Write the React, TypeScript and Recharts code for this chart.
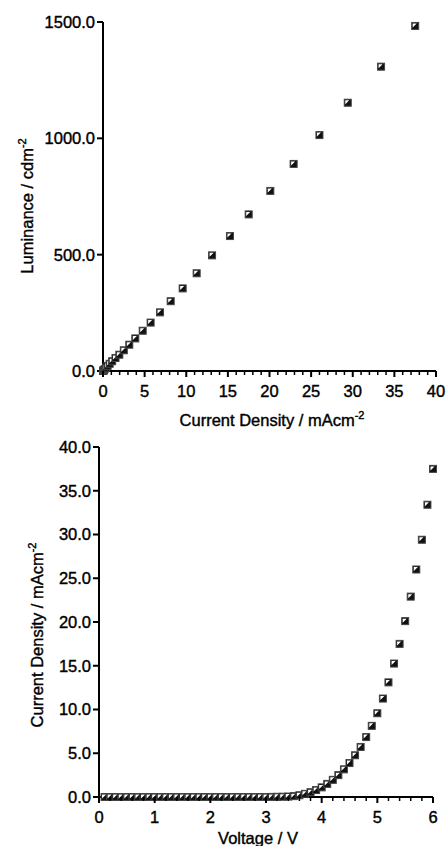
import { ScatterChart, Scatter, XAxis, YAxis } from "recharts";

// bias sweep, 0.1 V steps
const voltage = [
  0.1, 0.2, 0.3, 0.4, 0.5, 0.6, 0.7, 0.8, 0.9, 1.0,
  1.1, 1.2, 1.3, 1.4, 1.5, 1.6, 1.7, 1.8, 1.9, 2.0,
  2.1, 2.2, 2.3, 2.4, 2.5, 2.6, 2.7, 2.8, 2.9, 3.0,
  3.1, 3.2, 3.3, 3.4, 3.5, 3.6, 3.7, 3.8, 3.9, 4.0,
  4.1, 4.2, 4.3, 4.4, 4.5, 4.6, 4.7, 4.8, 4.9, 5.0,
  5.1, 5.2, 5.3, 5.4, 5.5, 5.6, 5.7, 5.8, 5.9, 6.0,
];

// mA/cm2
const currentDensity = [
  0, 0, 0, 0, 0, 0, 0, 0, 0, 0,
  0, 0, 0, 0, 0, 0, 0, 0, 0, 0,
  0, 0, 0, 0, 0, 0, 0, 0, 0, 0,
  0.01, 0.02, 0.03, 0.05, 0.1, 0.2, 0.36, 0.55, 0.8, 1.1,
  1.5, 1.96, 2.5, 3.16, 3.88, 4.77, 5.72, 6.85, 8.13, 9.57,
  11.25, 13.1, 15.25, 17.5, 20.1, 22.9, 26.0, 29.4, 33.4, 37.5,
];

// cd/m2
const luminance = [
  0, 0, 0, 0, 0, 0, 0, 0, 0, 0,
  0, 0, 0, 0, 0, 0, 0, 0, 0, 0,
  0, 0, 0, 0, 0, 0, 0, 0, 0, 0,
  0, 0.5, 1, 2, 4, 8, 14, 22, 31, 42,
  56, 70, 89, 113, 140, 173, 208, 252, 300, 355,
  420, 497, 580, 673, 774, 890, 1014, 1153, 1308, 1483,
];

const lumTicks = [0, 500, 1000, 1500];
const jTicks = [0, 5, 10, 15, 20, 25, 30, 35, 40];
const vTicks = [0, 1, 2, 3, 4, 5, 6];

const FONT = "'Liberation Sans', Arial, sans-serif";
const TEXT_WEIGHT = 0.4; // faux-bold stroke, source fig is heavy

const minorTicks = (max: number, step: number) => {
  const out: number[] = [];
  for (let i = 0; i * step <= max + 1e-9; i++) out.push(+(i * step).toFixed(2));
  return out;
};

const lumData = currentDensity.map((j, i) => ({ j, lum: luminance[i] }));
const jvData = voltage.map((v, i) => ({ v, j: currentDensity[i] }));

function HalfSquare(props: any) {
  const { cx, cy } = props;
  if (cx == null || cy == null) return null;
  return (
    <g>
      <rect x={cx - 3.5} y={cy - 3.5} width={7} height={7} fill="#111" stroke="#444" strokeWidth={1} />
      <polygon points={`${cx - 2.5},${cy - 2.5} ${cx + 1.5},${cy - 2.5} ${cx - 2.5},${cy + 1.5}`} fill="#fff" />
    </g>
  );
}

function makeXTick(majors: number[]) {
  return (props: any) => {
    const { x, y, payload } = props;
    const v = payload.value;
    const isMajor = majors.some((m) => Math.abs(m - v) < 1e-6);
    return (
      <g>
        <line x1={x} x2={x} y1={y} y2={y + (isMajor ? 6 : 4)} stroke="#000" strokeWidth={isMajor ? 2 : 1.5} />
        {isMajor && (
          <text
            x={x}
            y={y + 26}
            textAnchor="middle"
            fontSize={16.5}
            fontFamily={FONT}
            fill="#000"
            stroke="#000"
            strokeWidth={TEXT_WEIGHT}
          >
            {v}
          </text>
        )}
      </g>
    );
  };
}

function Title({ x, y, text, rotate }: { x: number; y: number; text: string; rotate?: boolean }) {
  return (
    <text
      x={x}
      y={y}
      textAnchor="middle"
      fontSize={16.5}
      fontFamily={FONT}
      fill="#000"
      stroke="#000"
      strokeWidth={TEXT_WEIGHT}
      transform={rotate ? `rotate(-90, ${x}, ${y})` : undefined}
    >
      {text}
      <tspan fontSize={11} dy={-7}>-2</tspan>
    </text>
  );
}

function PlainTitle({ x, y, text }: { x: number; y: number; text: string }) {
  return (
    <text
      x={x}
      y={y}
      textAnchor="middle"
      fontSize={16.5}
      fontFamily={FONT}
      fill="#000"
      stroke="#000"
      strokeWidth={TEXT_WEIGHT}
    >
      {text}
    </text>
  );
}

const axisStyle = { stroke: "#000", strokeWidth: 2 };
const tickStyle = { fill: "#000", fontSize: 16.5, fontFamily: FONT, stroke: "#000", strokeWidth: TEXT_WEIGHT };

export default function App() {
  return (
    <div style={{ position: "absolute", left: 0, top: 0, width: 447, height: 846, background: "#fff" }}>
      <ScatterChart width={447} height={430} margin={{ top: 22, right: 11, left: 0, bottom: 0 }}>
        <XAxis
          type="number"
          dataKey="j"
          domain={[0, 40]}
          ticks={minorTicks(40, 1)}
          interval={0}
          tickSize={0}
          tickMargin={0}
          tickLine={false}
          axisLine={axisStyle}
          tick={makeXTick(jTicks)}
          height={59}
          label={() => <Title x={272} y={426} text="Current Density / mAcm" />}
        />
        <YAxis
          type="number"
          dataKey="lum"
          domain={[0, 1500]}
          ticks={lumTicks}
          interval={0}
          width={103}
          axisLine={axisStyle}
          tickLine={axisStyle}
          tickSize={6}
          tickMargin={2}
          tick={tickStyle}
          tickFormatter={(v: number) => v.toFixed(1)}
          label={() => <Title x={33} y={206} text="Luminance / cdm" rotate />}
        />
        <Scatter data={lumData} shape={HalfSquare} isAnimationActive={false} />
      </ScatterChart>
      <ScatterChart width={447} height={416} margin={{ top: 17, right: 14, left: 0, bottom: 0 }}>
        <XAxis
          type="number"
          dataKey="v"
          domain={[0, 6]}
          ticks={minorTicks(6, 0.2)}
          interval={0}
          tickSize={0}
          tickMargin={0}
          tickLine={false}
          axisLine={axisStyle}
          tick={makeXTick(vTicks)}
          height={49}
          label={() => <PlainTitle x={258} y={414} text="Voltage / V" />}
        />
        <YAxis
          type="number"
          dataKey="j"
          domain={[0, 40]}
          ticks={jTicks}
          interval={0}
          width={99}
          axisLine={axisStyle}
          tickLine={axisStyle}
          tickSize={6}
          tickMargin={2}
          tick={tickStyle}
          tickFormatter={(v: number) => v.toFixed(1)}
          label={() => <Title x={43} y={205} text="Current Density / mAcm" rotate />}
        />
        <Scatter data={jvData} shape={HalfSquare} isAnimationActive={false} />
      </ScatterChart>
    </div>
  );
}
